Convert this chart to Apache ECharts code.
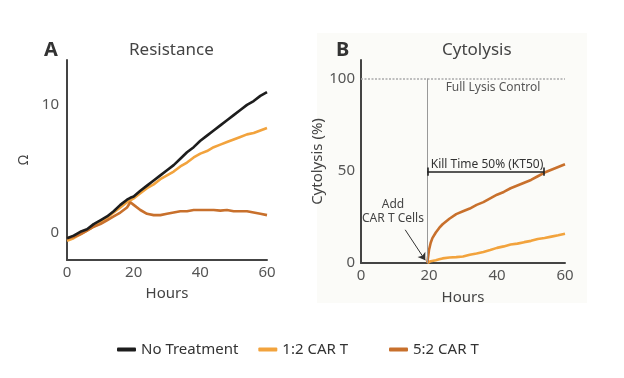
<!DOCTYPE html>
<html>
<head>
<meta charset="utf-8">
<script src="https://cdn.jsdelivr.net/npm/echarts@6/dist/echarts.min.js"></script>
<style>html,body{margin:0;padding:0;background:#fff}#c{width:624px;height:378px}</style>
</head>
<body>
<div id="c"></div>
<script>
// ---- Data ----
const seriesNames = ['No Treatment', '1:2 CAR T', '5:2 CAR T'];
const resistanceHours = [0,2,4,6,8,10,12,14,16,18,19,20,22,24,26,28,30,32,34,36,38,40,42,44,46,48,50,52,54,56,58,60];
const resistanceNoTreatment = [-0.4,-0.2,0.1,0.3,0.7,1.0,1.3,1.7,2.2,2.6,2.75,2.85,3.3,3.7,4.1,4.5,4.9,5.3,5.8,6.3,6.7,7.2,7.6,8.0,8.4,8.8,9.2,9.6,10.0,10.3,10.7,11.0];
const resistance12 = [-0.6,-0.4,-0.1,0.2,0.5,0.8,1.2,1.6,2.0,2.4,2.55,2.7,3.1,3.5,3.8,4.2,4.5,4.8,5.2,5.5,5.9,6.2,6.4,6.7,6.9,7.1,7.3,7.5,7.7,7.8,8.0,8.2];
const resistance52 = [-0.4,-0.3,-0.1,0.2,0.5,0.7,1.0,1.3,1.6,2.0,2.4,2.2,1.8,1.5,1.4,1.4,1.5,1.6,1.7,1.7,1.8,1.8,1.8,1.8,1.75,1.8,1.7,1.7,1.7,1.6,1.5,1.4];

const cytoHours = [19.5,20,20.5,21,22,23,24,26,28,30,32,34,36,38,40,42,44,46,48,50,52,54,56,58,60];
const cyto12 = [0,0.5,1,1,1.5,2,2.5,3,3.2,3.5,4.5,5.2,6,7,8.2,9,10,10.5,11.3,12,13,13.5,14.3,15,15.8];
const cyto52 = [0,7,11,13.5,16.5,19,21,24,26.5,28,29.5,31.5,33,35,37,38.5,40.5,42,43.5,45,47,49,50.5,52,53.5];

const hourTicks = [0,20,40,60];
const resistanceTicks = [0,10];
const cytoTicks = [0,50,100];

// annotation values (data units)
const carTAddHour = 19.5;
const fullLysis = 100;
const kt50Start = 19.5, kt50End = 53.8, kt50Level = 49.5;
const arrowFrom = [13, 18], arrowTo = [18.9, 1.5];

// ---- Style ----
const colors = ['#1d1d1d', '#f2a33d', '#c8702c'];
const FONT = 'Noto Sans';
const axisLineStyle = { color: '#444', width: 2 };

function pairs(xs, ys) { return xs.map((x, i) => [x, ys[i]]); }

const chart = echarts.init(document.getElementById('c'), null, { renderer: 'canvas' });

const lineSeries = (name, xi, yi, xs, ys, color, extra) => Object.assign({
  name, type: 'line', xAxisIndex: xi, yAxisIndex: yi,
  data: pairs(xs, ys), showSymbol: false, smooth: false,
  lineStyle: { width: 2.6, color }, itemStyle: { color },
  emphasis: { disabled: true }, animation: false, z: 3
}, extra || {});

const legendCommon = {
  itemWidth: 19, itemHeight: 4, icon: 'roundRect', itemGap: 20,
  textStyle: { fontSize: 15, color: '#333', fontFamily: FONT }
};

const option = {
  animation: false,
  textStyle: { fontFamily: FONT },
  title: [
    { text: 'A', left: 39, top: 35, textStyle: { fontSize: 20, fontWeight: 'bold', color: '#333', fontFamily: FONT } },
    { text: 'Resistance', left: 124, top: 37, textStyle: { fontSize: 17, fontWeight: 'normal', color: '#444', fontFamily: FONT } },
    { text: 'B', left: 331, top: 35, textStyle: { fontSize: 20, fontWeight: 'bold', color: '#333', fontFamily: FONT } },
    { text: 'Cytolysis', left: 437, top: 37, textStyle: { fontSize: 17, fontWeight: 'normal', color: '#444', fontFamily: FONT } }
  ],
  graphic: [
    { type: 'rect', shape: { x: 317, y: 33, width: 270, height: 270 }, style: { fill: '#fbfbf8' }, z: -10, silent: true },
    { type: 'text', x: 493, y: 88, style: { text: 'Full Lysis Control', fill: '#555', fontSize: 12, fontFamily: FONT, align: 'center', verticalAlign: 'middle' }, z: 10 },
    { type: 'text', x: 487, y: 165, style: { text: 'Kill Time 50% (KT50)', fill: '#333', fontSize: 12, fontFamily: FONT, align: 'center', verticalAlign: 'middle' }, z: 10 },
    { type: 'text', x: 393, y: 205, style: { text: 'Add', fill: '#444', fontSize: 12, fontFamily: FONT, align: 'center', verticalAlign: 'middle' }, z: 10 },
    { type: 'text', x: 393, y: 219, style: { text: 'CAR T Cells', fill: '#444', fontSize: 12, fontFamily: FONT, align: 'center', verticalAlign: 'middle' }, z: 10 }
  ],
  legend: [
    Object.assign({ data: seriesNames.slice(0, 2), left: 112, top: 337 }, legendCommon),
    Object.assign({ data: seriesNames.slice(2), left: 384, top: 337 }, legendCommon)
  ],
  grid: [
    { left: 67, width: 200, top: 60, height: 200 },
    { left: 361, width: 204, top: 60, height: 203 }
  ],
  xAxis: [
    { type: 'value', gridIndex: 0, min: 0, max: 60, interval: 20,
      axisLine: { onZero: false, lineStyle: axisLineStyle }, axisTick: { show: false }, splitLine: { show: false },
      axisLabel: { color: '#555', fontSize: 15, margin: 5, customValues: hourTicks },
      name: 'Hours', nameLocation: 'middle', nameGap: 26, nameTextStyle: { fontSize: 15, color: '#444' } },
    { type: 'value', gridIndex: 1, min: 0, max: 60, interval: 20,
      axisLine: { onZero: false, lineStyle: axisLineStyle }, axisTick: { show: false }, splitLine: { show: false },
      axisLabel: { color: '#555', fontSize: 15, margin: 5, customValues: hourTicks },
      name: 'Hours', nameLocation: 'middle', nameGap: 27, nameTextStyle: { fontSize: 15, color: '#444' } }
  ],
  yAxis: [
    { type: 'value', gridIndex: 0, min: -2.1, max: 13.5,
      axisLine: { show: true, onZero: false, lineStyle: axisLineStyle }, axisTick: { show: false }, splitLine: { show: false },
      axisLabel: { color: '#555', fontSize: 15, margin: 8, customValues: resistanceTicks },
      name: 'Ω', nameLocation: 'middle', nameGap: 36, nameRotate: 90, nameTextStyle: { fontSize: 14, color: '#444' } },
    { type: 'value', gridIndex: 1, min: 0, max: 110,
      axisLine: { show: true, onZero: false, lineStyle: axisLineStyle }, axisTick: { show: false }, splitLine: { show: false },
      axisLabel: { color: '#555', fontSize: 15, margin: 6, customValues: cytoTicks },
      name: 'Cytolysis (%)', nameLocation: 'middle', nameGap: 29, nameRotate: 90, nameTextStyle: { fontSize: 15, color: '#444' } }
  ],
  series: [
    lineSeries(seriesNames[0], 0, 0, resistanceHours, resistanceNoTreatment, colors[0], { z: 4 }),
    lineSeries(seriesNames[1], 0, 0, resistanceHours, resistance12, colors[1]),
    lineSeries(seriesNames[2], 0, 0, resistanceHours, resistance52, colors[2]),
    lineSeries(seriesNames[1], 1, 1, cytoHours, cyto12, colors[1]),
    lineSeries(seriesNames[2], 1, 1, cytoHours, cyto52, colors[2], {
      markLine: {
        silent: true, animation: false, symbol: ['none', 'none'], label: { show: false },
        emphasis: { disabled: true },
        data: [
          [{ coord: [0, fullLysis], lineStyle: { color: '#aaa', width: 1.5, type: [2, 1.5] } }, { coord: [60, fullLysis] }],
          [{ coord: [carTAddHour, 0], lineStyle: { color: '#999', width: 1, type: 'solid' } }, { coord: [carTAddHour, fullLysis] }],
          [{ coord: [kt50Start, kt50Level], lineStyle: { color: '#222', width: 1.6, type: 'solid' } }, { coord: [kt50End, kt50Level] }],
          [{ coord: [kt50Start, kt50Level - 2.2], lineStyle: { color: '#222', width: 1.6, type: 'solid' } }, { coord: [kt50Start, kt50Level + 2.2] }],
          [{ coord: [kt50End, kt50Level - 2.2], lineStyle: { color: '#222', width: 1.6, type: 'solid' } }, { coord: [kt50End, kt50Level + 2.2] }],
          [{ coord: arrowFrom, symbol: 'none', lineStyle: { color: '#333', width: 1, type: 'solid' } }, { coord: arrowTo, symbol: 'arrow', symbolSize: 7 }]
        ]
      }
    })
  ]
};
chart.setOption(option);
</script>
</body>
</html>
